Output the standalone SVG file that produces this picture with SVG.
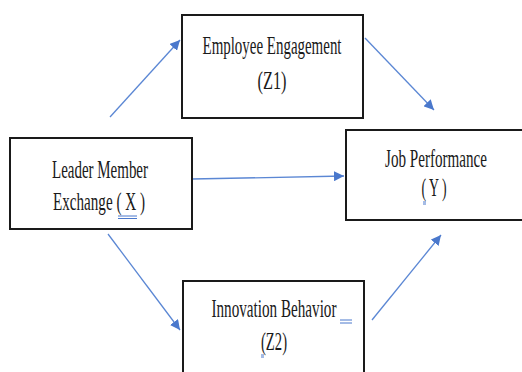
<svg xmlns="http://www.w3.org/2000/svg" width="522" height="372" viewBox="0 0 522 372">
  <defs>
    <marker id="arrow" viewBox="0 0 10 10" refX="10" refY="5" markerWidth="10" markerHeight="10" markerUnits="userSpaceOnUse" orient="auto">
      <path d="M0,0 L10,5 L0,10 z" fill="#4a78cc"/>
    </marker>
    <style>
      .box { fill: #ffffff; stroke: #1a1a1a; stroke-width: 2; }
      .label { font-family: "Liberation Serif", "Times New Roman", serif; font-size: 26px; fill: #1a1a1a; text-anchor: middle; }
      .link { stroke: #5b87d4; stroke-width: 1.3; fill: none; marker-end: url(#arrow); }
      .mark { stroke: #4a78cc; stroke-width: 1; }
    </style>
  </defs>
  <rect width="522" height="372" fill="#ffffff"/>

  <g id="connectors">
    <line class="link" x1="110" y1="117" x2="180" y2="40"/>
    <line class="link" x1="365" y1="38" x2="434" y2="110"/>
    <line class="link" x1="192" y1="179" x2="344" y2="176"/>
    <line class="link" x1="108" y1="234" x2="180" y2="330"/>
    <line class="link" x1="372" y1="320" x2="441" y2="235"/>
  </g>

  <g id="node-x">
    <rect class="box" x="10" y="138" width="182" height="91"/>
    <text class="label" x="100" y="178" textLength="96" lengthAdjust="spacingAndGlyphs">Leader Member</text>
    <text class="label" x="99" y="210" textLength="92" lengthAdjust="spacingAndGlyphs">Exchange ( X )</text>
    <line class="mark" x1="118" y1="216" x2="137" y2="216"/>
    <line class="mark" x1="118" y1="218.5" x2="137" y2="218.5"/>
  </g>

  <g id="node-z1">
    <rect class="box" x="182" y="15" width="181" height="103"/>
    <text class="label" x="272" y="54" textLength="139" lengthAdjust="spacingAndGlyphs">Employee Engagement</text>
    <text class="label" x="272" y="89" textLength="29" lengthAdjust="spacingAndGlyphs">(Z1)</text>
  </g>

  <g id="node-y">
    <rect class="box" x="346" y="130" width="180" height="90"/>
    <text class="label" x="436" y="167" textLength="102" lengthAdjust="spacingAndGlyphs">Job Performance</text>
    <text class="label" x="434" y="196" textLength="25" lengthAdjust="spacingAndGlyphs">( Y )</text>
    <line class="mark" x1="423" y1="202" x2="426" y2="202"/>
    <line class="mark" x1="423" y1="204" x2="426" y2="204"/>
  </g>

  <g id="node-z2">
    <rect class="box" x="183" y="281" width="181" height="100"/>
    <text class="label" x="274" y="317" textLength="125" lengthAdjust="spacingAndGlyphs">Innovation Behavior</text>
    <line class="mark" x1="340" y1="320" x2="352" y2="320"/>
    <line class="mark" x1="340" y1="323" x2="352" y2="323"/>
    <text class="label" x="274" y="350" textLength="26" lengthAdjust="spacingAndGlyphs">(Z2)</text>
    <line class="mark" x1="261" y1="355" x2="264" y2="355"/>
    <line class="mark" x1="261" y1="357" x2="264" y2="357"/>
  </g>
</svg>
